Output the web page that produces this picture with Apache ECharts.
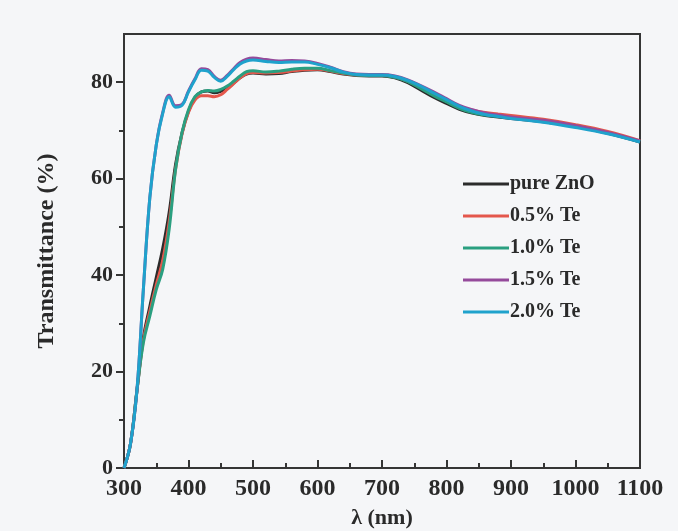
<!DOCTYPE html>
<html>
<head>
<meta charset="utf-8">
<script src="https://cdn.jsdelivr.net/npm/echarts@6/dist/echarts.min.js"></script>
<style>html,body{margin:0;padding:0;background:#f5f6f8;}#c{width:678px;height:531px;}</style>
</head>
<body>
<div id="c"></div>
<script>
const wavelengths = [300,310,320,330,340,350,360,370,380,390,400,410,420,430,440,450,460,470,480,490,500,520,540,560,580,600,620,640,660,680,700,720,740,760,780,800,820,840,860,880,900,950,1000,1050,1100];
const pureZnO = [0,5,16,27,33.5,39.5,45.5,53,63,69.5,74,76.8,78,78.2,77.8,78.1,78.8,79.8,80.9,81.7,81.9,81.7,81.8,82.2,82.5,82.6,82.2,81.7,81.4,81.3,81.3,80.9,79.9,78.4,76.9,75.6,74.4,73.6,73.1,72.8,72.5,71.8,70.8,69.4,67.6];
const te05 = [0,5,16,26.5,32.5,38,43,51,62,69.3,73.8,76.3,77.2,77.2,77,77.4,78.5,79.7,80.9,81.8,82,81.9,82,82.3,82.6,82.7,82.3,81.8,81.5,81.4,81.4,81.1,80.2,78.9,77.5,76.2,75,74.2,73.7,73.4,73.1,72.3,71.2,69.8,67.9];
const te10 = [0,5,16,26,31.5,37,41.2,49.5,62,69.6,74.3,77,78,78.3,78.2,78.5,79.2,80.2,81.3,82.2,82.4,82.1,82.3,82.7,82.9,82.9,82.4,81.9,81.5,81.4,81.4,81,80.1,78.7,77.2,75.9,74.6,73.7,73.2,72.9,72.6,71.9,70.9,69.5,67.7];
const te15 = [0,5,16,37,56,67,73.7,77.3,75.1,75.4,78.2,80.7,82.8,82.6,81.2,80.4,81.4,82.8,84.1,84.8,85,84.7,84.4,84.5,84.4,83.9,83.1,82.2,81.7,81.6,81.6,81.3,80.5,79.3,78,76.6,75.2,74.3,73.6,73.2,72.8,72.1,71,69.6,67.8];
const te20 = [0,5,16,37,56,67,73.5,77,74.8,75.2,78,80.5,82.5,82.3,81,80.2,81.2,82.6,83.8,84.4,84.6,84.3,84.1,84.2,84.2,83.7,83,82.1,81.6,81.5,81.5,81.2,80.4,79.2,77.8,76.4,75,74,73.3,72.9,72.5,71.7,70.6,69.3,67.6];
const seriesNames = ['pure ZnO','0.5% Te','1.0% Te','1.5% Te','2.0% Te'];
const seriesValues = [pureZnO, te05, te10, te15, te20];
const seriesColors = ['#2b2b2b','#e4574c','#2a9f80','#954a9b','#1fa2cc'];
const yMajorTicks = [0,20,40,60,80];
const yMinorTicks = [10,30,50,70];
const xMajorTicks = [300,400,500,600,700,800,900,1000,1100];
const xMinorTicks = [350,450,550,650,750,850,950,1050];

const font = 'Liberation Serif, Times New Roman, serif';
const axisColor = '#353535';
const textColor = '#2a2a2a';

const chart = echarts.init(document.getElementById('c'));
chart.setOption({
  backgroundColor: '#f5f6f8',
  animation: false,
  grid: { left: 124, right: 38, top: 34, bottom: 63, outerBoundsMode: 'none', containLabel: false, show: true, borderColor: axisColor, borderWidth: 2, backgroundColor: 'transparent' },
  legend: {
    orient: 'vertical', left: 458, top: 169,
    icon: 'rect', itemWidth: 46, itemHeight: 3, itemGap: 12,
    textStyle: { fontFamily: font, fontWeight: 'bold', fontSize: 20, color: textColor, lineHeight: 20, padding: [0,0,0,-4] },
    data: seriesNames
  },
  xAxis: [{
    type: 'value', min: 300, max: 1100, interval: 100,
    name: 'λ (nm)', nameLocation: 'middle', nameGap: 39,
    nameTextStyle: { fontFamily: font, fontWeight: 'bold', fontSize: 22, color: textColor },
    axisLine: { show: true, lineStyle: { color: axisColor, width: 2 } },
    axisTick: { show: true, inside: true, length: 8, customValues: xMajorTicks, lineStyle: { color: axisColor, width: 2 } },
    splitLine: { show: false },
    axisLabel: { customValues: xMajorTicks, formatter: v => String(v), fontFamily: font, fontWeight: 'bold', fontSize: 24, color: textColor, margin: 9 }
  }, {
    type: 'value', min: 300, max: 1100, position: 'bottom',
    axisLine: { show: false },
    axisTick: { show: true, inside: true, length: 5, customValues: xMinorTicks, lineStyle: { color: axisColor, width: 2 } },
    splitLine: { show: false },
    axisLabel: { show: false }
  }],
  yAxis: [{
    type: 'value', min: 0, max: 90,
    name: 'Transmittance (%)', nameLocation: 'middle', nameGap: 65, nameRotate: 90,
    nameTextStyle: { fontFamily: font, fontWeight: 'bold', fontSize: 24, color: textColor },
    axisLine: { show: true, lineStyle: { color: axisColor, width: 2 } },
    axisTick: { show: true, inside: false, length: 8, customValues: yMajorTicks, lineStyle: { color: axisColor, width: 2 } },
    splitLine: { show: false },
    axisLabel: { customValues: yMajorTicks, fontFamily: font, fontWeight: 'bold', fontSize: 22, color: textColor, margin: 11 }
  }, {
    type: 'value', min: 0, max: 90, position: 'left',
    axisLine: { show: false },
    axisTick: { show: true, inside: false, length: 5, customValues: yMinorTicks, lineStyle: { color: axisColor, width: 2 } },
    splitLine: { show: false },
    axisLabel: { show: false }
  }],
  series: seriesNames.map((n, i) => ({
    name: n, type: 'line', xAxisIndex: 0, yAxisIndex: 0, symbol: 'none', smooth: 0.4,
    color: seriesColors[i],
    lineStyle: { width: 3, color: seriesColors[i] },
    data: wavelengths.map((w, j) => [w, seriesValues[i][j]])
  }))
});
</script>
</body>
</html>
